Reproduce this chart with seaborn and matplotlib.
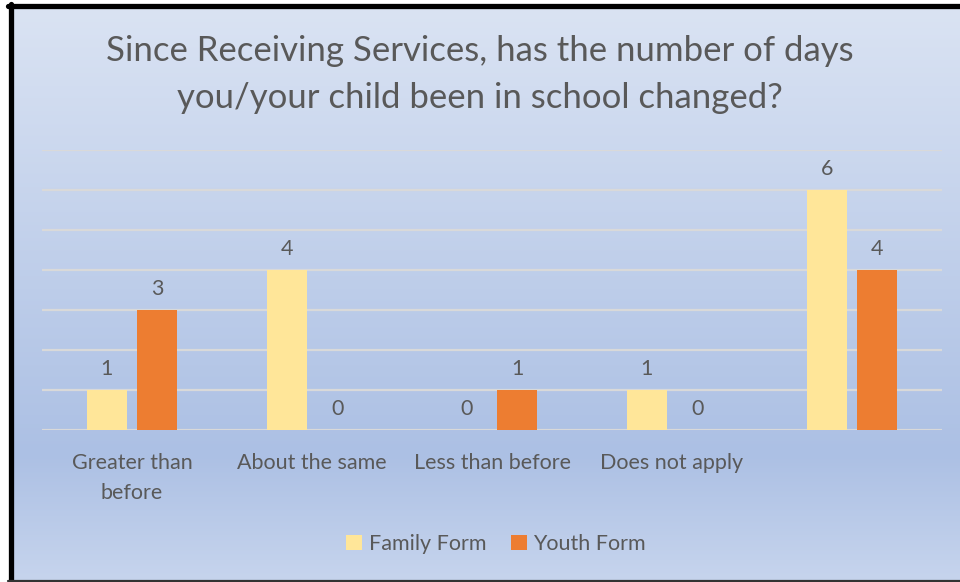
import numpy as np
import pandas as pd
import matplotlib.pyplot as plt
import seaborn as sns
from matplotlib.lines import Line2D

# data
categories = ["Greater than\nbefore", "About the same", "Less than before", "Does not apply", ""]
family_form = [1, 4, 0, 1, 6]
youth_form = [3, 0, 1, 0, 4]
series = ["Family Form", "Youth Form"]
colors = ["#FFE699", "#ED7D31"]
title = "Since Receiving Services, has the number of days\nyou/your child been in school changed?"

df = pd.DataFrame({
    "category": categories * 2,
    "value": family_form + youth_form,
    "series": [series[0]] * len(categories) + [series[1]] * len(categories),
})
df["category"] = pd.Categorical(df["category"], categories=categories, ordered=True)

sns.set_style("white")
plt.rcParams["font.family"] = ["Lato", "DejaVu Sans"]
text_color = "#595959"

fig = plt.figure(figsize=(9.6, 5.82), dpi=100)
fig.patch.set_facecolor("white")

# gradient background of the chart area
W, H = 960, 582
bg = fig.add_axes([13 / W, 2 / H, (W - 13) / W, (H - 10) / H])
bg.set_axis_off()
t = np.linspace(0, 1, 256)
stops = [0.0, 0.78, 1.0]
cols = np.array([[218, 227, 243], [172, 192, 228], [198, 212, 237]]) / 255
grad = np.stack([np.interp(t, stops, cols[:, i]) for i in range(3)], axis=1)
bg.imshow(grad[:, None, :], aspect="auto", extent=[0, 1, 0, 1])

ax = fig.add_axes([42 / W, (H - 430) / H, 900 / W, 280 / H])
ax.patch.set_alpha(0)
sns.barplot(data=df, x="category", y="value", hue="series", palette=colors,
            saturation=1, width=0.56, gap=0.21, linewidth=0, edgecolor="none",
            ax=ax, legend=True)

ax.set_ylim(0, 7)
ax.set_yticks(range(8))
ax.yaxis.grid(True, color="#D9D9D9", linewidth=1.6)
ax.set_axisbelow(True)
ax.tick_params(axis="y", left=False, labelleft=False)
ax.tick_params(axis="x", bottom=False, pad=13, labelsize=15.5, labelcolor=text_color)
for lbl in ax.get_xticklabels():
    lbl.set_linespacing(1.6)
ax.set_xlabel("")
ax.set_ylabel("")
ax.set_xlim(-0.5, 4.5)
sns.despine(ax=ax, left=True, bottom=True)

for cont in ax.containers:
    ax.bar_label(cont, fmt="%d", padding=8, fontsize=15.5, color=text_color)

ax.legend(loc="center", bbox_to_anchor=(496 / W, (H - 544) / H), bbox_transform=fig.transFigure,
          ncol=2, frameon=False, fontsize=15.5, labelcolor=text_color,
          handlelength=0.75, handleheight=0.75, handletextpad=0.3, columnspacing=1.15)

fig.text(0.5, (H - 74.5) / H, title, ha="center", va="center", fontsize=25,
         color=text_color, linespacing=1.58)

# black frame on top, left and bottom
fig.add_artist(Line2D([8 / W, 1], [(H - 5.5) / H] * 2, color="black", linewidth=3.8))
fig.add_artist(Line2D([10.5 / W] * 2, [1.5 / H, (H - 3.5) / H], color="black", linewidth=3.8))
fig.add_artist(Line2D([8 / W, 1], [1 / H] * 2, color="#333333", linewidth=1.6))

fig.savefig("out.png", dpi=100)
